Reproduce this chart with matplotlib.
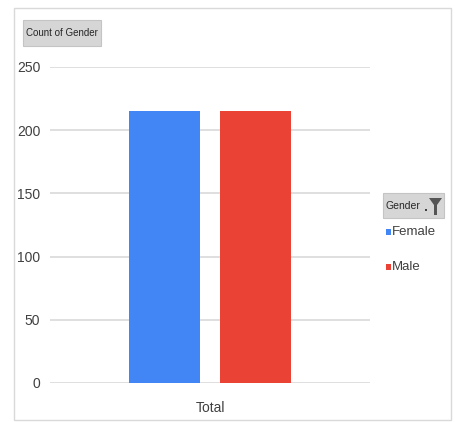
import matplotlib.pyplot as plt
from matplotlib.patches import Rectangle, Polygon
import numpy as np

# data
categories = ['Total']
series = ['Female', 'Male']
counts = [215, 215]
colors = ['#4285F4', '#EA4335']
yticks = [0, 50, 100, 150, 200, 250]

plt.rcParams['font.family'] = ['Liberation Sans Narrow', 'Liberation Sans', 'DejaVu Sans']

W, H = 455, 422
fig = plt.figure(figsize=(W / 100, H / 100), dpi=100)
fig.patch.set_facecolor('white')

def fx(px):
    return px / W

def fy(py):
    return 1 - py / H

# outer frame
fig.patches.append(Rectangle((fx(14), fy(420)), fx(451) - fx(14), fy(8) - fy(420),
                             transform=fig.transFigure, fill=False, edgecolor='#d9d9d9', lw=1))

ax = fig.add_axes([fx(50), fy(383), fx(370) - fx(50), fy(67) - fy(383)])
x = np.arange(len(categories))
offsets = [-0.141, 0.141]
for i, name in enumerate(series):
    ax.bar(x + offsets[i], counts[i], width=0.222, color=colors[i], label=name, zorder=3)

ax.set_xlim(-0.5, 0.5)
ax.set_ylim(0, 250)
ax.set_yticks(yticks)
ax.set_xticks(x)
ax.set_xticklabels(categories)
for s in ax.spines.values():
    s.set_visible(False)
ax.grid(axis='y', color='#d9d9d9', lw=1.2, zorder=0)
ax.tick_params(axis='both', length=0, colors='#404040', labelsize=10)
ax.tick_params(axis='y', pad=7)
ax.tick_params(axis='x', pad=13)

# "Count of Gender" field button
fig.patches.append(Rectangle((fx(23), fy(46)), fx(101) - fx(23), fy(20) - fy(46),
                             transform=fig.transFigure, facecolor='#d6d6d6', edgecolor='#c4c4c4', lw=0.8))
fig.text(fx(62), fy(33), 'Count of Gender', ha='center', va='center', fontsize=7, color='#262626')

# legend with field button
fig.patches.append(Rectangle((fx(383), fy(218)), fx(444) - fx(383), fy(193) - fy(218),
                             transform=fig.transFigure, facecolor='#d6d6d6', edgecolor='#c4c4c4', lw=0.8))
fig.text(fx(386), fy(206), 'Gender', ha='left', va='center', fontsize=7.5, color='#262626')
fig.patches.append(Rectangle((fx(425), fy(211)), fx(2), fy(0) - fy(2),
                             transform=fig.transFigure, facecolor='#404040', edgecolor='none'))
funnel = [(fx(429), fy(198)), (fx(442), fy(198)), (fx(437), fy(205)), (fx(437), fy(215)),
          (fx(434), fy(215)), (fx(434), fy(205))]
fig.patches.append(Polygon(funnel, closed=True, transform=fig.transFigure, facecolor='#555555', edgecolor='none'))

for i, name in enumerate(series):
    yy = 232 + i * 35
    fig.patches.append(Rectangle((fx(386), fy(yy + 3)), fx(5), fy(0) - fy(6),
                                 transform=fig.transFigure, facecolor=colors[i], edgecolor='none'))
    fig.text(fx(392), fy(yy), name, ha='left', va='center', fontsize=9.5, color='#404040')

fig.savefig('out.png', dpi=100)
